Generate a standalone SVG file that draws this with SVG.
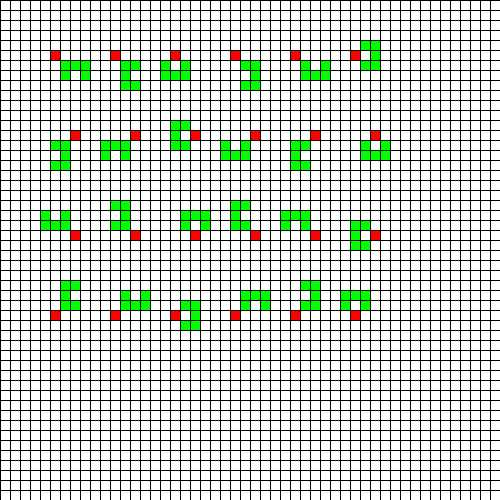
<svg xmlns="http://www.w3.org/2000/svg" width="500" height="500" viewBox="0 0 500 500">
<defs>
<style>
.r{fill:#ff0000}
.g{fill:#00ff00}
</style>
<pattern id="grid" width="10" height="10" patternUnits="userSpaceOnUse"><path d="M0 0.5H10M0.5 0V10" stroke="#000" stroke-width="1" fill="none"/></pattern>
</defs>
<rect width="500" height="500" fill="#fff"/>
<g id="cells">
<g id="p1"><rect class="r" x="50" y="50" width="10" height="10"/><rect class="g" x="60" y="60" width="30" height="10"/><rect class="g" x="60" y="70" width="10" height="10"/><rect class="g" x="80" y="70" width="10" height="10"/></g>
<g id="p2"><rect class="r" x="110" y="50" width="10" height="10"/><rect class="g" x="120" y="60" width="20" height="10"/><rect class="g" x="120" y="70" width="10" height="10"/><rect class="g" x="120" y="80" width="20" height="10"/></g>
<g id="p3"><rect class="r" x="170" y="50" width="10" height="10"/><rect class="g" x="160" y="60" width="10" height="10"/><rect class="g" x="180" y="60" width="10" height="10"/><rect class="g" x="160" y="70" width="30" height="10"/></g>
<g id="p4"><rect class="r" x="230" y="50" width="10" height="10"/><rect class="g" x="240" y="60" width="20" height="10"/><rect class="g" x="250" y="70" width="10" height="10"/><rect class="g" x="240" y="80" width="20" height="10"/></g>
<g id="p5"><rect class="r" x="290" y="50" width="10" height="10"/><rect class="g" x="300" y="60" width="10" height="10"/><rect class="g" x="320" y="60" width="10" height="10"/><rect class="g" x="300" y="70" width="30" height="10"/></g>
<g id="p6"><rect class="r" x="350" y="50" width="10" height="10"/><rect class="g" x="360" y="40" width="20" height="10"/><rect class="g" x="370" y="50" width="10" height="10"/><rect class="g" x="360" y="60" width="20" height="10"/></g>
<g id="p7"><rect class="r" x="70" y="130" width="10" height="10"/><rect class="g" x="50" y="140" width="20" height="10"/><rect class="g" x="60" y="150" width="10" height="10"/><rect class="g" x="50" y="160" width="20" height="10"/></g>
<g id="p8"><rect class="r" x="130" y="130" width="10" height="10"/><rect class="g" x="100" y="140" width="30" height="10"/><rect class="g" x="100" y="150" width="10" height="10"/><rect class="g" x="120" y="150" width="10" height="10"/></g>
<g id="p9"><rect class="r" x="190" y="130" width="10" height="10"/><rect class="g" x="170" y="120" width="20" height="10"/><rect class="g" x="170" y="130" width="10" height="10"/><rect class="g" x="170" y="140" width="20" height="10"/></g>
<g id="p10"><rect class="r" x="250" y="130" width="10" height="10"/><rect class="g" x="220" y="140" width="10" height="10"/><rect class="g" x="240" y="140" width="10" height="10"/><rect class="g" x="220" y="150" width="30" height="10"/></g>
<g id="p11"><rect class="r" x="310" y="130" width="10" height="10"/><rect class="g" x="290" y="140" width="20" height="10"/><rect class="g" x="290" y="150" width="10" height="10"/><rect class="g" x="290" y="160" width="20" height="10"/></g>
<g id="p12"><rect class="r" x="370" y="130" width="10" height="10"/><rect class="g" x="360" y="140" width="10" height="10"/><rect class="g" x="380" y="140" width="10" height="10"/><rect class="g" x="360" y="150" width="30" height="10"/></g>
<g id="p13"><rect class="r" x="70" y="230" width="10" height="10"/><rect class="g" x="40" y="210" width="10" height="10"/><rect class="g" x="60" y="210" width="10" height="10"/><rect class="g" x="40" y="220" width="30" height="10"/></g>
<g id="p14"><rect class="r" x="130" y="230" width="10" height="10"/><rect class="g" x="110" y="200" width="20" height="10"/><rect class="g" x="120" y="210" width="10" height="10"/><rect class="g" x="110" y="220" width="20" height="10"/></g>
<g id="p15"><rect class="r" x="190" y="230" width="10" height="10"/><rect class="g" x="180" y="210" width="30" height="10"/><rect class="g" x="180" y="220" width="10" height="10"/><rect class="g" x="200" y="220" width="10" height="10"/></g>
<g id="p16"><rect class="r" x="250" y="230" width="10" height="10"/><rect class="g" x="230" y="200" width="20" height="10"/><rect class="g" x="230" y="210" width="10" height="10"/><rect class="g" x="230" y="220" width="20" height="10"/></g>
<g id="p17"><rect class="r" x="310" y="230" width="10" height="10"/><rect class="g" x="280" y="210" width="30" height="10"/><rect class="g" x="280" y="220" width="10" height="10"/><rect class="g" x="300" y="220" width="10" height="10"/></g>
<g id="p18"><rect class="r" x="370" y="230" width="10" height="10"/><rect class="g" x="350" y="220" width="20" height="10"/><rect class="g" x="350" y="230" width="10" height="10"/><rect class="g" x="350" y="240" width="20" height="10"/></g>
<g id="p19"><rect class="r" x="50" y="310" width="10" height="10"/><rect class="g" x="60" y="280" width="20" height="10"/><rect class="g" x="60" y="290" width="10" height="10"/><rect class="g" x="60" y="300" width="20" height="10"/></g>
<g id="p20"><rect class="r" x="110" y="310" width="10" height="10"/><rect class="g" x="120" y="290" width="10" height="10"/><rect class="g" x="140" y="290" width="10" height="10"/><rect class="g" x="120" y="300" width="30" height="10"/></g>
<g id="p21"><rect class="r" x="170" y="310" width="10" height="10"/><rect class="g" x="180" y="300" width="20" height="10"/><rect class="g" x="190" y="310" width="10" height="10"/><rect class="g" x="180" y="320" width="20" height="10"/></g>
<g id="p22"><rect class="r" x="230" y="310" width="10" height="10"/><rect class="g" x="240" y="290" width="30" height="10"/><rect class="g" x="240" y="300" width="10" height="10"/><rect class="g" x="260" y="300" width="10" height="10"/></g>
<g id="p23"><rect class="r" x="290" y="310" width="10" height="10"/><rect class="g" x="300" y="280" width="20" height="10"/><rect class="g" x="310" y="290" width="10" height="10"/><rect class="g" x="300" y="300" width="20" height="10"/></g>
<g id="p24"><rect class="r" x="350" y="310" width="10" height="10"/><rect class="g" x="340" y="290" width="30" height="10"/><rect class="g" x="340" y="300" width="10" height="10"/><rect class="g" x="360" y="300" width="10" height="10"/></g>
</g>
<rect id="gridlines" width="500" height="500" fill="url(#grid)"/>
</svg>
